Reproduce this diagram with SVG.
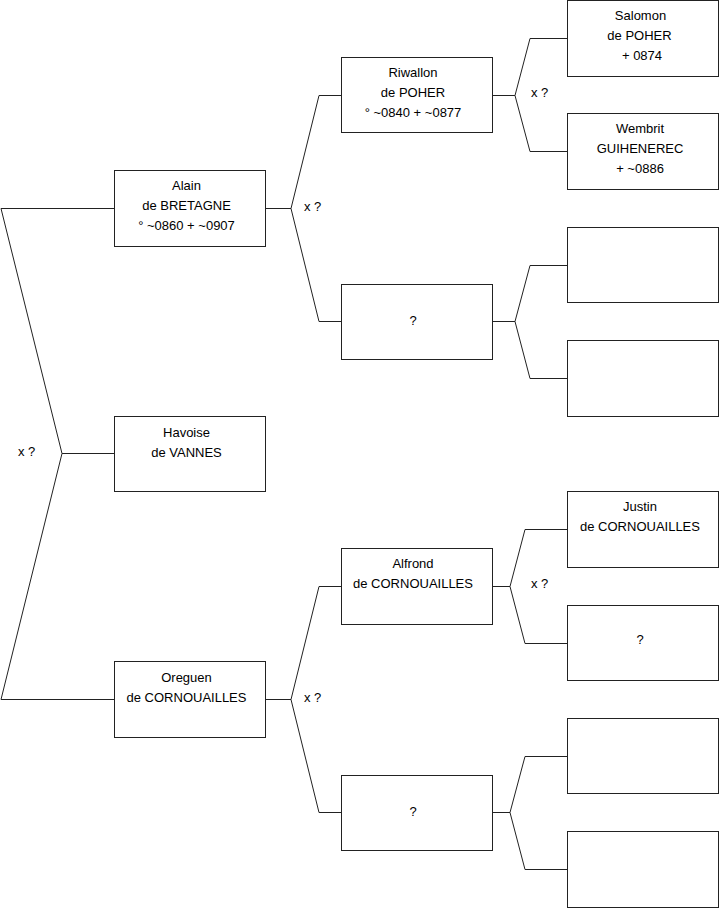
<svg xmlns="http://www.w3.org/2000/svg" width="719" height="908" viewBox="0 0 719 908">
<style>
.box{fill:#fff;stroke:#222;stroke-width:1}
.ln{fill:none;stroke:#222;stroke-width:1}
text{font-family:"Liberation Sans",Arial,sans-serif;font-size:13px;fill:#000}
.c{text-anchor:middle}
</style>
<rect width="719" height="908" fill="#fff"/>
<g id="connectors">
<polyline class="ln" points="114,208.5 1,208.5 62,453.5 1,699.5 114,699.5"/>
<line class="ln" x1="62" y1="453.5" x2="114" y2="453.5"/>
<polyline class="ln" points="265,208.5 291,208.5"/>
<polyline class="ln" points="341,95.5 319,95.5 291,208.5 319,321.5 341,321.5"/>
<polyline class="ln" points="492,95.5 515,95.5"/>
<polyline class="ln" points="567,38.5 530,38.5 515,95.5 530,151.5 567,151.5"/>
<polyline class="ln" points="492,321.5 515,321.5"/>
<polyline class="ln" points="567,265.5 530,265.5 515,321.5 530,378.5 567,378.5"/>
<polyline class="ln" points="265,699.5 291,699.5"/>
<polyline class="ln" points="341,586.5 319,586.5 291,699.5 319,812.5 341,812.5"/>
<polyline class="ln" points="492,586.5 510,586.5"/>
<polyline class="ln" points="567,529.5 525,529.5 510,586.5 525,643.5 567,643.5"/>
<polyline class="ln" points="492,812.5 510,812.5"/>
<polyline class="ln" points="567,756.5 525,756.5 510,812.5 525,869.5 567,869.5"/>
<text x="18" y="456">x ?</text>
<text x="304" y="211">x ?</text>
<text x="304" y="702">x ?</text>
<text x="531" y="97">x ?</text>
<text x="531" y="588">x ?</text>
</g>
<g id="alain"><rect class="box" x="114.5" y="170.5" width="151" height="76"/>
<text class="c" x="186.5" y="190">Alain</text><text class="c" x="186.5" y="210">de BRETAGNE</text><text class="c" x="186.5" y="230">° ~0860 + ~0907</text></g>
<g id="havoise"><rect class="box" x="114.5" y="416.5" width="151" height="75"/>
<text class="c" x="186.5" y="437">Havoise</text><text class="c" x="186.5" y="457">de VANNES</text></g>
<g id="oreguen"><rect class="box" x="114.5" y="661.5" width="151" height="76"/>
<text class="c" x="186.5" y="682">Oreguen</text><text class="c" x="186.5" y="702">de CORNOUAILLES</text></g>
<g id="riwallon"><rect class="box" x="341.5" y="57.5" width="151" height="75"/>
<text class="c" x="413" y="77">Riwallon</text><text class="c" x="413" y="97">de POHER</text><text class="c" x="413" y="117">° ~0840 + ~0877</text></g>
<g id="unknown1"><rect class="box" x="341.5" y="284.5" width="151" height="75"/>
<text class="c" x="413" y="325">?</text></g>
<g id="alfrond"><rect class="box" x="341.5" y="548.5" width="151" height="76"/>
<text class="c" x="413" y="568">Alfrond</text><text class="c" x="413" y="588">de CORNOUAILLES</text></g>
<g id="unknown2"><rect class="box" x="341.5" y="775.5" width="151" height="75"/>
<text class="c" x="413" y="816">?</text></g>
<g id="salomon"><rect class="box" x="567.5" y="0.5" width="151" height="76"/>
<text class="c" x="640.5" y="20">Salomon</text><text class="c" x="639.5" y="40">de POHER</text><text class="c" x="642" y="60">+ 0874</text></g>
<g id="wembrit"><rect class="box" x="567.5" y="113.5" width="151" height="76"/>
<text class="c" x="640" y="133">Wembrit</text><text class="c" x="640" y="153">GUIHENEREC</text><text class="c" x="640" y="173">+ ~0886</text></g>
<g id="empty1"><rect class="box" x="567.5" y="227.5" width="151" height="75"/></g>
<g id="empty2"><rect class="box" x="567.5" y="340.5" width="151" height="76"/></g>
<g id="justin"><rect class="box" x="567.5" y="491.5" width="151" height="76"/>
<text class="c" x="640" y="511">Justin</text><text class="c" x="640" y="531">de CORNOUAILLES</text></g>
<g id="unknown3"><rect class="box" x="567.5" y="605.5" width="151" height="75"/>
<text class="c" x="640" y="644">?</text></g>
<g id="empty3"><rect class="box" x="567.5" y="718.5" width="151" height="75"/></g>
<g id="empty4"><rect class="box" x="567.5" y="831.5" width="151" height="76"/></g>
</svg>
